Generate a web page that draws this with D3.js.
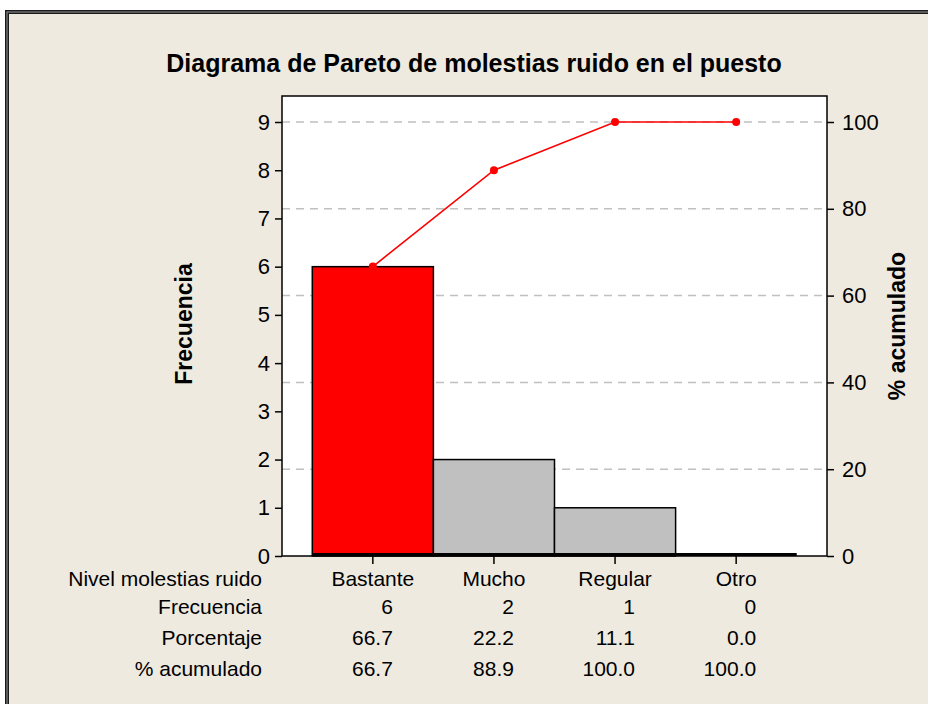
<!DOCTYPE html>
<html>
<head>
<meta charset="utf-8">
<script src="https://cdn.jsdelivr.net/npm/d3@7"></script>
<style>
  body { margin: 0; background: #fff; }
  svg { display: block; }
</style>
</head>
<body>
<script>
// data
var categories = ["Bastante", "Mucho", "Regular", "Otro"];
var frecuencia = [6, 2, 1, 0];
var porcentaje = [66.7, 22.2, 11.1, 0.0];
var acumulado = [66.7, 88.9, 100.0, 100.0];
var leftTicks = [0, 1, 2, 3, 4, 5, 6, 7, 8, 9];
var rightTicks = [0, 20, 40, 60, 80, 100];
var gridTicks = [20, 40, 60, 80, 100];
var rowLabels = ["Nivel molestias ruido", "Frecuencia", "Porcentaje", "% acumulado"];

var W = 928, H = 704;
var sans = "'Liberation Sans', Arial, sans-serif";
var bg = "#EEEAE0";

// plot box
var plot = {left: 282, right: 827, top: 96, bottom: 556};

var svg = d3.select("body").append("svg")
    .attr("width", W)
    .attr("height", H);

// outer frame (only top and left edges show)
svg.append("rect")
    .attr("x", 7).attr("y", 12)
    .attr("width", W + 40).attr("height", H + 40)
    .style("fill", bg)
    .style("stroke", "#1a1a1a")
    .style("stroke-width", 4);
svg.append("rect")
    .attr("x", 7).attr("y", 12)
    .attr("width", W + 40).attr("height", H + 40)
    .style("fill", "none")
    .style("stroke", "#9a9a9a")
    .style("stroke-width", 1);

// title
svg.append("text")
    .attr("x", 474)
    .attr("y", 72)
    .attr("text-anchor", "middle")
    .style("font-family", sans)
    .style("font-weight", "bold")
    .style("font-size", "25px")
    .text("Diagrama de Pareto de molestias ruido en el puesto");

// scales
var xScale = d3.scaleBand()
    .domain(categories)
    .range([plot.left, plot.right])
    .paddingInner(0)
    .paddingOuter(0.25);

var yLeft = d3.scaleLinear().domain([0, 9]).range([plot.bottom, 122]);
var yRight = d3.scaleLinear().domain([0, 100]).range([plot.bottom, 122]);

// plot background
svg.append("rect")
    .attr("x", plot.left).attr("y", plot.top)
    .attr("width", plot.right - plot.left)
    .attr("height", plot.bottom - plot.top)
    .style("fill", "#fff");

// gridlines
svg.selectAll(".grid")
    .data(gridTicks)
    .enter().append("line")
    .attr("class", "grid")
    .attr("x1", plot.left).attr("x2", plot.right)
    .attr("y1", function(d) { return yRight(d); })
    .attr("y2", function(d) { return yRight(d); })
    .style("stroke", "#c0c0c0")
    .style("stroke-width", 1.5)
    .style("stroke-dasharray", "8,6");

// bars
var bars = categories.map(function(c, i) { return {cat: c, v: frecuencia[i], i: i}; });

svg.selectAll(".bar")
    .data(bars.filter(function(d) { return d.v > 0; }))
    .enter().append("rect")
    .attr("class", "bar")
    .attr("x", function(d) { return xScale(d.cat); })
    .attr("y", function(d) { return yLeft(d.v); })
    .attr("width", xScale.bandwidth())
    .attr("height", function(d) { return yLeft(0) - yLeft(d.v); })
    .style("fill", function(d) { return d.i === 0 ? "#ff0000" : "#c0c0c0"; })
    .style("stroke", "#000")
    .style("stroke-width", 1.5);

// bar bottoms (the empty one shows only as this line)
svg.selectAll(".barbase")
    .data(bars)
    .enter().append("line")
    .attr("class", "barbase")
    .attr("x1", function(d) { return xScale(d.cat); })
    .attr("x2", function(d) { return xScale(d.cat) + xScale.bandwidth(); })
    .attr("y1", plot.bottom - 1.5)
    .attr("y2", plot.bottom - 1.5)
    .style("stroke", "#000")
    .style("stroke-width", 3);

// cumulative line
var cx = function(d, i) { return xScale(categories[i]) + xScale.bandwidth() / 2; };
var line = d3.line()
    .x(function(d, i) { return cx(d, i); })
    .y(function(d) { return yRight(d); });

svg.append("path")
    .datum(acumulado)
    .attr("d", line)
    .style("fill", "none")
    .style("stroke", "#ff0000")
    .style("stroke-width", 1.6);

svg.selectAll(".pt")
    .data(acumulado)
    .enter().append("circle")
    .attr("class", "pt")
    .attr("cx", cx)
    .attr("cy", function(d) { return yRight(d); })
    .attr("r", 4)
    .style("fill", "#ff0000");

// plot border
svg.append("rect")
    .attr("x", plot.left).attr("y", plot.top)
    .attr("width", plot.right - plot.left)
    .attr("height", plot.bottom - plot.top)
    .style("fill", "none")
    .style("stroke", "#000")
    .style("stroke-width", 1.5);

// left axis
var gl = svg.append("g")
    .attr("transform", "translate(" + plot.left + ",0)")
    .call(d3.axisLeft(yLeft).tickValues(leftTicks).tickSize(7).tickPadding(5));
// right axis
var gr = svg.append("g")
    .attr("transform", "translate(" + plot.right + ",0)")
    .call(d3.axisRight(yRight).tickValues(rightTicks).tickSize(7).tickPadding(8));
// bottom ticks
var gb = svg.append("g")
    .attr("transform", "translate(0," + plot.bottom + ")")
    .call(d3.axisBottom(xScale).tickSize(8).tickFormat(""));

[gl, gr, gb].forEach(function(g) {
    g.select(".domain").remove();
    g.selectAll(".tick line").style("stroke", "#000").style("stroke-width", 1.5);
    g.selectAll("text")
        .style("font-family", sans)
        .style("font-size", "22px")
        .style("fill", "#000");
});

// axis titles
svg.append("text")
    .attr("transform", "translate(192,324) rotate(-90)")
    .attr("text-anchor", "middle")
    .style("font-family", sans)
    .style("font-weight", "bold")
    .style("font-size", "23px")
    .text("Frecuencia");

svg.append("text")
    .attr("transform", "translate(905,326) rotate(-90)")
    .attr("text-anchor", "middle")
    .style("font-family", sans)
    .style("font-weight", "bold")
    .style("font-size", "23px")
    .text("% acumulado");

// table under the chart
var rowY = [586, 614, 645, 676];

svg.selectAll(".rowlabel")
    .data(rowLabels)
    .enter().append("text")
    .attr("class", "rowlabel")
    .attr("x", 262)
    .attr("y", function(d, i) { return rowY[i]; })
    .attr("text-anchor", "end")
    .style("font-family", sans)
    .style("font-size", "21px")
    .text(function(d) { return d; });

svg.selectAll(".catname")
    .data(categories)
    .enter().append("text")
    .attr("class", "catname")
    .attr("x", function(d) { return xScale(d) + xScale.bandwidth() / 2; })
    .attr("y", rowY[0])
    .attr("text-anchor", "middle")
    .style("font-family", sans)
    .style("font-size", "21px")
    .text(function(d) { return d; });

var tableRows = [
    frecuencia.map(function(v) { return String(v); }),
    porcentaje.map(function(v) { return v.toFixed(1); }),
    acumulado.map(function(v) { return v.toFixed(1); })
];

tableRows.forEach(function(row, r) {
    svg.selectAll(".cell" + r)
        .data(row)
        .enter().append("text")
        .attr("class", "cell" + r)
        .attr("x", function(d, i) { return xScale(categories[i]) + xScale.bandwidth() / 2 + 20; })
        .attr("y", rowY[r + 1])
        .attr("text-anchor", "end")
        .style("font-family", sans)
        .style("font-size", "21px")
        .text(function(d) { return d; });
});
</script>
</body>
</html>
